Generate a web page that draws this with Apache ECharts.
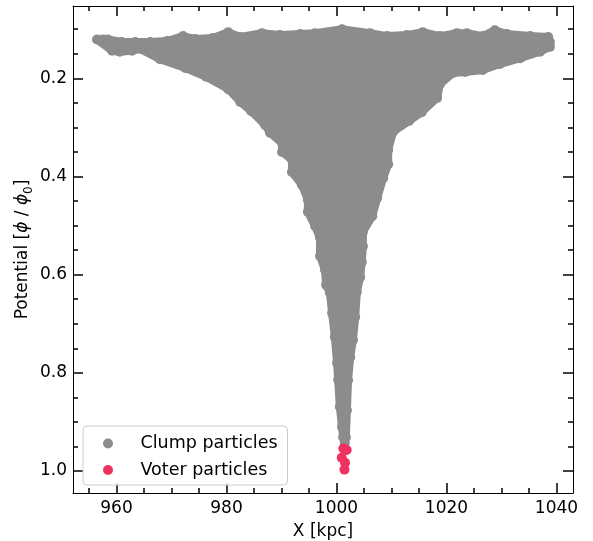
<!DOCTYPE html>
<html>
<head>
<meta charset="utf-8">
<script src="https://cdn.jsdelivr.net/npm/echarts@6/dist/echarts.min.js"></script>
<style>html,body{margin:0;padding:0;background:#fff}#c{width:593px;height:541px}</style>
</head>
<body>
<div id="c"></div>
<script>
// Outline particles of the clump (centres, ordered around the blob)
const clumpX = [
  956.45, 957.55, 958.45, 961.0, 963.4, 966.1, 969.2, 972.1, 974.3, 977.5, 980.3, 982.5,
  986.45, 989.7, 993.4, 996.1, 1001.0, 1006.1, 1009.2, 1012.8, 1015.7, 1018.8, 1021.9,
  1023.7, 1026.6, 1028.8, 1031.0, 1035.2, 1038.5, 1038.8,
  1038.8, 1037.0, 1033.4, 1029.7, 1026.6, 1023.4, 1021.2, 1018.8, 1018.3, 1015.5, 1013.2,
  1010.3, 1009.4, 1009.4, 1008.5, 1007.4, 1006.5, 1004.8, 1004.8, 1004.6, 1004.3, 1003.7,
  1003.4, 1003.0, 1002.5, 1002.1, 1001.9, 1001.7, 1001.5,
  1001.2, 1001.0, 1000.6, 1000.3, 1000.1, 999.7, 999.2, 998.8, 998.1, 997.9, 997.0, 997.0,
  996.1, 994.8, 994.8, 993.7, 991.9, 991.9, 990.1, 990.1, 987.9, 987.0, 984.5, 982.5,
  980.3, 976.3, 972.5, 967.9, 964.3, 962.8, 960.6, 959.2
];
const clumpY = [
  0.121, 0.121, 0.121, 0.126, 0.126, 0.126, 0.124, 0.114, 0.120, 0.118, 0.106, 0.116,
  0.108, 0.112, 0.110, 0.108, 0.100, 0.108, 0.114, 0.112, 0.106, 0.114, 0.108,
  0.108, 0.114, 0.102, 0.110, 0.114, 0.116, 0.126,
  0.136, 0.146, 0.159, 0.171, 0.183, 0.187, 0.189, 0.212, 0.240, 0.269, 0.287,
  0.309, 0.346, 0.375, 0.403, 0.444, 0.481, 0.513, 0.542, 0.574, 0.605, 0.635,
  0.686, 0.733, 0.768, 0.815, 0.876, 0.931, 0.943,
  0.931, 0.910, 0.869, 0.814, 0.780, 0.727, 0.678, 0.637, 0.621, 0.590, 0.562, 0.525,
  0.501, 0.472, 0.448, 0.417, 0.391, 0.366, 0.350, 0.332, 0.311, 0.295, 0.267, 0.248,
  0.222, 0.197, 0.179, 0.161, 0.140, 0.144, 0.146, 0.144
];
const voterX = [1001.24, 1001.85, 1000.95, 1001.55, 1001.45];
const voterY = [0.954, 0.957, 0.973, 0.983, 0.997];

const xMajorTicks = [960, 980, 1000, 1020, 1040];
const xMinorTicks = [955, 965, 970, 975, 985, 990, 995, 1005, 1010, 1015, 1025, 1030, 1035];
const yMajorTicks = [0.2, 0.4, 0.6, 0.8, 1.0];
const yMinorTicks = [0.1, 0.15, 0.25, 0.3, 0.35, 0.45, 0.5, 0.55, 0.65, 0.7, 0.75, 0.85, 0.9, 0.95];

const GRAY = '#8c8c8c';
const RED = '#f03261';
const FONT = 'DejaVu Sans';
const FS = 17;
const FS_LEG = 17.5;
const X_MIN = 952.09, X_MAX = 1043.0;
const Y_MIN = 0.05275, Y_MAX = 1.04465;

function xAx(pos, ticks, len, opts) {
  return Object.assign({
    type: 'value', gridIndex: 0, position: pos, min: X_MIN, max: X_MAX,
    axisLine: { show: true, onZero: false, lineStyle: { color: '#000', width: 1 } },
    axisTick: { show: true, inside: true, length: len, customValues: ticks, lineStyle: { color: '#000', width: 1.5 } },
    axisLabel: { show: false },
    splitLine: { show: false }, minorTick: { show: false }
  }, opts || {});
}
function yAx(pos, ticks, len, opts) {
  return Object.assign({
    type: 'value', gridIndex: 0, position: pos, min: Y_MIN, max: Y_MAX, inverse: true,
    axisLine: { show: true, onZero: false, lineStyle: { color: '#000', width: 1 } },
    axisTick: { show: true, inside: true, length: len, customValues: ticks, lineStyle: { color: '#000', width: 1.5 } },
    axisLabel: { show: false },
    splitLine: { show: false }, minorTick: { show: false }
  }, opts || {});
}

const chart = echarts.init(document.getElementById('c'), null, { renderer: 'canvas' });
chart.setOption({
  animation: false,
  textStyle: { fontFamily: FONT },
  grid: { left: 73, right: 20, top: 6, bottom: 48, containLabel: false, outerBoundsMode: 'none' },
  xAxis: [
    xAx('bottom', xMajorTicks, 10, {
      axisLabel: { show: true, customValues: xMajorTicks, margin: 7, fontSize: FS, color: '#000', fontFamily: FONT,
                   formatter: v => String(Math.round(v)) },
      name: 'X [kpc]', nameLocation: 'middle', nameGap: 30, nameMoveOverlap: false,
      nameTextStyle: { fontSize: FS, color: '#000', fontFamily: FONT }
    }),
    xAx('bottom', xMinorTicks, 5, { axisLine: { show: false } }),
    xAx('top', xMajorTicks, 10),
    xAx('top', xMinorTicks, 5, { axisLine: { show: false } })
  ],
  yAxis: [
    yAx('left', yMajorTicks, 10, {
      axisLabel: { show: true, customValues: yMajorTicks, margin: 6, fontSize: FS, color: '#000', fontFamily: FONT,
                   padding: [3, 0, 0, 0], formatter: v => v.toFixed(1) },
      name: '{m|Potential [}{i|ϕ}{m| / }{i|ϕ}{s|0}{m|]}', nameLocation: 'middle', nameGap: 38, nameMoveOverlap: false,
      nameTextStyle: {
        fontSize: FS, color: '#000', fontFamily: FONT,
        rich: {
          m: { fontSize: FS, color: '#000', fontFamily: FONT, padding: [0, 0, 4, 0], verticalAlign: 'bottom' },
          i: { fontSize: FS, color: '#000', fontFamily: FONT, fontStyle: 'italic', padding: [0, 0, 4, 0], verticalAlign: 'bottom' },
          s: { fontSize: 12, color: '#000', fontFamily: FONT, verticalAlign: 'bottom' }
        }
      }
    }),
    yAx('left', yMinorTicks, 5, { axisLine: { show: false } }),
    yAx('right', yMajorTicks, 10),
    yAx('right', yMinorTicks, 5, { axisLine: { show: false } })
  ],
  legend: {
    orient: 'vertical', left: 83, top: 426,
    padding: [8.5, 10, 6, 20], itemGap: 8.5, itemWidth: 29, itemHeight: 10, icon: 'circle',
    selectedMode: false,
    data: ['Clump particles', 'Voter particles'],
    formatter: name => '{t|' + name + '}',
    textStyle: { fontSize: FS_LEG, color: '#000', fontFamily: FONT,
                 rich: { t: { fontSize: FS_LEG, color: '#000', fontFamily: FONT, padding: [0, 0, 0, 13] } } },
    backgroundColor: 'rgba(255,255,255,0.8)', borderColor: '#cccccc', borderWidth: 1, borderRadius: 4
  },
  series: [
    {
      type: 'custom', name: 'clumpFill', xAxisIndex: 0, yAxisIndex: 0, silent: true, z: 1,
      data: [[clumpX[0], clumpY[0]]],
      renderItem: function (params, api) {
        const pts = clumpX.map((x, i) => api.coord([x, clumpY[i]]));
        return { type: 'polygon', shape: { points: pts },
                 style: { fill: GRAY, stroke: GRAY, lineWidth: 8, lineJoin: 'round' } };
      }
    },
    {
      type: 'scatter', name: 'Clump particles', xAxisIndex: 0, yAxisIndex: 0, z: 2,
      symbol: 'circle', symbolSize: 10, itemStyle: { color: GRAY, opacity: 1 },
      emphasis: { disabled: true },
      data: clumpX.map((x, i) => [x, clumpY[i]])
    },
    {
      type: 'scatter', name: 'Voter particles', xAxisIndex: 0, yAxisIndex: 0, z: 3,
      symbol: 'circle', symbolSize: 10, itemStyle: { color: RED, opacity: 1 },
      emphasis: { disabled: true },
      data: voterX.map((x, i) => [x, voterY[i]])
    }
  ]
});
</script>
</body>
</html>
